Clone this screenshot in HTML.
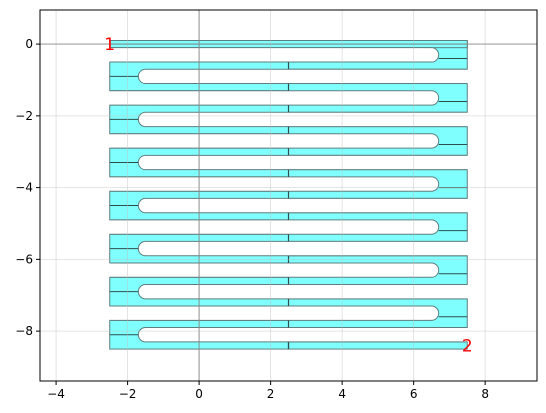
<!DOCTYPE html>
<html><head><meta charset="utf-8">
<style>
html,body{margin:0;padding:0;background:#fff;}
svg{display:block;font-family:"DejaVu Sans","Liberation Sans",sans-serif;}
</style></head>
<body>
<svg id="chart" width="546" height="413" viewBox="0 0 546 413" xmlns="http://www.w3.org/2000/svg">
<rect x="0" y="0" width="546" height="413" fill="#fff"/>
<g id="shapes"></g>
<g id="grid"></g>
<g id="labels"></g>
<g id="axes"></g>
</svg>
<script>
const xTicks = [-4, -2, 0, 2, 4, 6, 8];
const yTicks = [0, -2, -4, -6, -8];
const leftRectTops = [-0.5, -1.7, -2.9, -4.1, -5.3, -6.5, -7.7];
const rightRectTops = [0.1, -1.1, -2.3, -3.5, -4.7, -5.9, -7.1];
const rectHeight = [0.8];
const openLeftSlotTops = [-0.1, -1.3, -2.5, -3.7, -4.9, -6.1, -7.3];
const openRightSlotTops = [-0.7, -1.9, -3.1, -4.3, -5.5, -6.7, -7.9];
const slotWidth = [0.4];
const xExtent = [-2.5, 2.5, 7.5];
const slotEnds = [-1.7, 6.7];
const strips = [[-2.5, 7.5, 0.1, -0.1], [2.5, 7.5, -8.3, -8.5]];
const ports = [["1", -2.5, 0], ["2", 7.5, -8.4]];

const NS = "http://www.w3.org/2000/svg";
const L = 40, R = 537, T = 10, B = 381;
const xmin = -4.45, xmax = 9.45, ymin = -9.39, ymax = 0.95;
const sx = v => L + (v - xmin) / (xmax - xmin) * (R - L);
const sy = v => T + (ymax - v) / (ymax - ymin) * (B - T);
function mk(tag, attrs, parent) {
  const e = document.createElementNS(NS, tag);
  for (const k in attrs) e.setAttribute(k, attrs[k]);
  parent.appendChild(e);
  return e;
}
const grid = document.getElementById('grid');
const shapes = document.getElementById('shapes');
const labels = document.getElementById('labels');
const axes = document.getElementById('axes');

xTicks.forEach(t => {
  const l = mk('line', {x1: sx(t), x2: sx(t), y1: T, y2: B, stroke: t === 0 ? '#888' : '#bbb', 'stroke-opacity': t === 0 ? 0.8 : 0.5, 'stroke-width': t === 0 ? 1.2 : 0.8}, grid);
  
  
});
yTicks.forEach(t => {
  const l = mk('line', {x1: L, x2: R, y1: sy(t), y2: sy(t), stroke: t === 0 ? '#888' : '#bbb', 'stroke-opacity': t === 0 ? 0.8 : 0.5, 'stroke-width': t === 0 ? 1.2 : 0.8}, grid);
  
  
});

const FILL = '#80ffff', EDGE = '#5f7f7f';
const h = rectHeight[0], sw = slotWidth[0];
function rect(x0, x1, yt, yb, name) {
  const r = mk('rect', {x: sx(x0), y: sy(yt), width: sx(x1) - sx(x0), height: sy(yb) - sy(yt), fill: FILL, stroke: EDGE, 'stroke-width': 1}, shapes);
  
  
}
leftRectTops.forEach(t => rect(xExtent[0], xExtent[1], t, t - h, 'left-rect'));
rightRectTops.forEach(t => rect(xExtent[1], xExtent[2], t, t - h, 'right-rect'));
strips.forEach(s => rect(s[0], s[1], s[2], s[3], 'port-strip'));

openLeftSlotTops.forEach(t => {
  const yt = sy(t), yb = sy(t - sw), r = (yb - yt) / 2, xe = sx(slotEnds[1]);
  const d = `M${sx(xExtent[0])},${yt} L${xe - r},${yt} A${r},${r} 0 0 1 ${xe - r},${yb} L${sx(xExtent[0])},${yb}`;
  const p = mk('path', {d: d, fill: '#fff', stroke: EDGE, 'stroke-width': 1}, shapes);
  
  
  const cy = sy(t - 0.2 - 0.8 / 2 + 0.2 - 0.0 - 0.0) ;
  const cy2 = sy(t + 0.1 - 0.4);
  const c = mk('line', {x1: xe, x2: sx(xExtent[2]), y1: cy2, y2: cy2, stroke: '#2f4f4f', 'stroke-width': 1}, shapes);
  
  
});
openRightSlotTops.forEach(t => {
  const yt = sy(t), yb = sy(t - sw), r = (yb - yt) / 2, xs = sx(slotEnds[0]);
  const d = `M${sx(xExtent[2])},${yt} L${xs + r},${yt} A${r},${r} 0 0 0 ${xs + r},${yb} L${sx(xExtent[2])},${yb}`;
  const p = mk('path', {d: d, fill: '#fff', stroke: EDGE, 'stroke-width': 1}, shapes);
  
  
  const cy = sy(t + 0.5 - 0.7);
  const c = mk('line', {x1: sx(xExtent[0]), x2: xs, y1: cy, y2: cy, stroke: '#2f4f4f', 'stroke-width': 1}, shapes);
  
  
});
leftRectTops.forEach(t => {
  [[t, t - 0.2], [t - h + 0.2, t - h]].forEach(seg => {
    const c = mk('line', {x1: sx(xExtent[1]), x2: sx(xExtent[1]), y1: sy(seg[0]), y2: sy(seg[1]), stroke: '#2f4f4f', 'stroke-width': 1.2}, shapes);
    
    
  });
});
{
  const s = strips[0];
  const c = mk('line', {x1: sx(s[0]), x2: sx(s[1]), y1: sy(0), y2: sy(0), stroke: '#5f7f7f', 'stroke-width': 0.8}, shapes);
  
  
  const s2 = strips[1];
  const t2 = mk('line', {x1: sx(2.5), x2: sx(2.5), y1: sy(s2[2]), y2: sy(s2[3]), stroke: '#2f4f4f', 'stroke-width': 1.2}, shapes);
  
  
}
ports.forEach(p => {
  const t = mk('text', {x: sx(p[1]), y: sy(p[2]) + 6, 'text-anchor': 'middle', fill: '#ff0000', 'font-size': 17}, labels);
  t.textContent = p[0];
  
  
});

const frame = mk('rect', {x: L, y: T, width: R - L, height: B - T, fill: 'none', stroke: '#000', 'stroke-width': 1}, axes);


xTicks.forEach(t => {
  const tk = mk('line', {x1: sx(t), x2: sx(t), y1: B, y2: B + 4, stroke: '#000'}, axes);
  
  
  const lb = mk('text', {x: sx(t), y: B + 17, 'text-anchor': 'middle', 'font-size': 12, fill: '#000'}, axes);
  lb.textContent = t < 0 ? '\u2212' + (-t) : String(t);
  
  
});
yTicks.forEach(t => {
  const tk = mk('line', {x1: L - 4, x2: L, y1: sy(t), y2: sy(t), stroke: '#000'}, axes);
  
  
  const lb = mk('text', {x: L - 7, y: sy(t) + 4, 'text-anchor': 'end', 'font-size': 12, fill: '#000'}, axes);
  lb.textContent = t < 0 ? '\u2212' + (-t) : String(t);
  
  
});
</script>
</body></html>
